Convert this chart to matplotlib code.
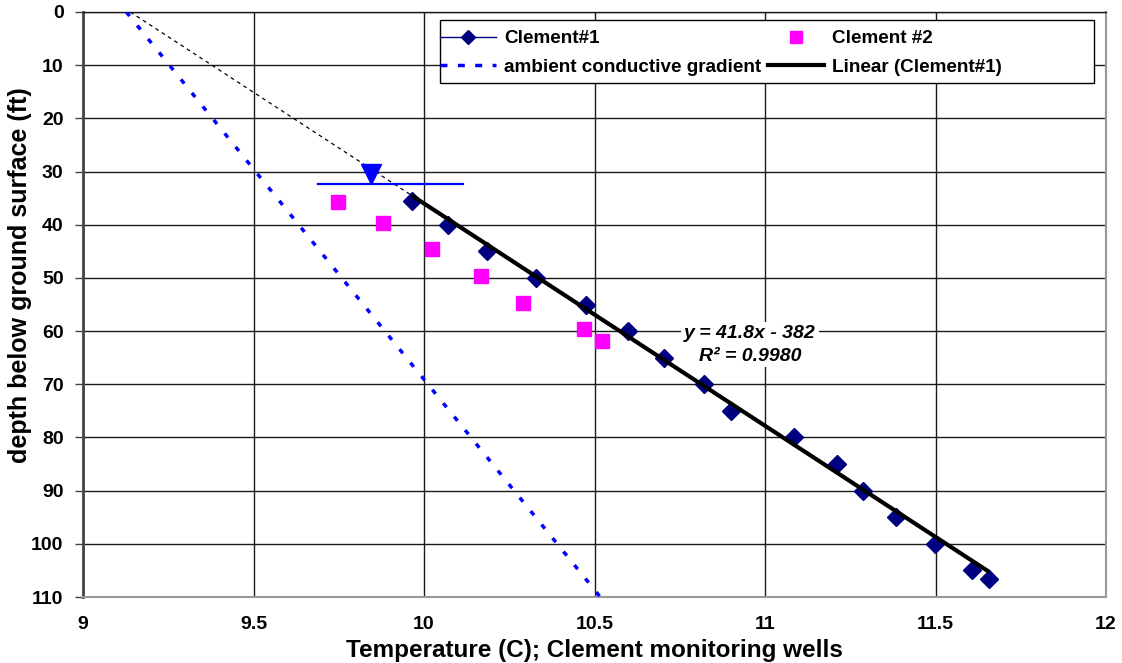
import numpy as np
import matplotlib
matplotlib.use('Agg')
import matplotlib.pyplot as plt
from matplotlib.lines import Line2D
from matplotlib.patches import Rectangle

# ---- data ----
c1_temp = [9.964, 10.069, 10.184, 10.328, 10.474, 10.597, 10.704, 10.821,
           10.900, 11.086, 11.210, 11.288, 11.383, 11.499, 11.608, 11.658]
c1_depth = [35.6, 40, 45, 50, 55, 60, 65, 70, 75, 80, 85, 90, 95, 100, 105, 106.6]
c2_temp = [9.747, 9.881, 10.023, 10.167, 10.291, 10.470, 10.523]
c2_depth = [35.7, 39.6, 44.6, 49.6, 54.7, 59.7, 61.8]
amb_temp = [9.127, 10.517]
amb_depth = [0, 110]
wt_temp = [9.688, 10.115]
wt_depth = 32.3
wt_marker_temp = 9.845
wt_marker_depth = 30.5
fit_slope = 41.8
fit_intercept = -382.0
x_ticks = [9, 9.5, 10, 10.5, 11, 11.5, 12]
x_ticklabels = ['9', '9.5', '10', '10.5', '11', '11.5', '12']
y_ticks = list(range(0, 111, 10))

plt.rcParams['font.family'] = ['Liberation Sans', 'DejaVu Sans']
plt.rcParams['font.weight'] = 'bold'

fig = plt.figure(figsize=(11.22, 6.63), dpi=100)
ax = fig.add_axes([83/1122, 1-597/663, (1106-83)/1122, 585/663])

ax.set_xlim(9, 12)
ax.set_ylim(110, 0)
ax.set_xticks(x_ticks)
ax.set_xticklabels(x_ticklabels)
ax.set_yticks(y_ticks)
ax.grid(True, color='#1a1a1a', linewidth=1.0, zorder=0)
ax.set_axisbelow(True)

# ambient conductive gradient
ax.plot(amb_temp, amb_depth, color='#0000FF', linewidth=2.5,
        linestyle=(0, (1.5, 3.5)), zorder=3)

# trend line + extension
t_min, t_max = min(c1_temp), max(c1_temp)
t0 = -fit_intercept / fit_slope
ax.plot([t0, t_min], [0, fit_slope * t_min + fit_intercept], color='black',
        linewidth=0.9, linestyle=(0, (3, 3)), zorder=4)

ax.plot(c1_temp, c1_depth, linestyle='none', marker='D', markersize=9,
        color='#000080', markeredgecolor='#000080', zorder=4)
ax.plot(c2_temp, c2_depth, linestyle='none', marker='s', markersize=10.5,
        color='#FF00FF', markeredgecolor='#FF00FF', zorder=4)

tt = np.array([t_min, t_max])
ax.plot(tt, fit_slope * tt + fit_intercept, color='black', linewidth=3,
        solid_capstyle='butt', zorder=5)

# water table symbol
ax.plot(wt_temp, [wt_depth, wt_depth], color='#0000FF', linewidth=1.6, zorder=5)
ax.plot([wt_marker_temp], [wt_marker_depth], marker='v', markersize=15,
        color='#0000FF', linestyle='none', zorder=6)

# equation
ax.text(10.956, 62.6, 'y = 41.8x - 382\nR² = 0.9980', ha='center', va='center',
        fontsize=14, fontstyle='italic', fontweight='bold', linespacing=1.42,
        bbox=dict(facecolor='white', edgecolor='none', pad=2), zorder=7)

# axes styling
for s in ['right', 'bottom']:
    ax.spines[s].set_color('#999999')
    ax.spines[s].set_linewidth(1.5)
ax.spines['left'].set_color('#444444')
ax.spines['left'].set_linewidth(2)
ax.spines['top'].set_color('#1a1a1a')
ax.spines['top'].set_linewidth(1)
ax.tick_params(axis='y', length=6, width=1, color='#444444', labelsize=14, pad=8)
ax.tick_params(axis='x', length=0, labelsize=14, pad=14)
for lab in ax.get_xticklabels() + ax.get_yticklabels():
    lab.set_fontweight('bold')

ax.set_xlabel('Temperature (C); Clement monitoring wells', fontsize=17.5,
              fontweight='bold', labelpad=4)
fig.text(20 / 1122, 1 - 275 / 663, 'depth below ground surface (ft)',
         rotation=90, ha='center', va='center', fontsize=18, fontweight='bold')

# legend
x0 = (440 - 83) / 1023
x1 = (1094 - 83) / 1023
y1 = 1 - (20 - 12) / 585
y0 = 1 - (83 - 12) / 585
ax.add_patch(Rectangle((x0, y0), x1 - x0, y1 - y0, transform=ax.transAxes,
                       facecolor='white', edgecolor='black', linewidth=1,
                       zorder=8))
handles = [
    Line2D([], [], color='#000080', linewidth=1, marker='D', markersize=7),
    Line2D([], [], color='#0000FF', linewidth=2.5, linestyle=(0, (2, 3))),
    Line2D([], [], color='#FF00FF', linestyle='none', marker='s', markersize=8),
    Line2D([], [], color='black', linewidth=3),
]
labels = ['Clement#1', 'ambient conductive gradient', 'Clement #2',
          'Linear (Clement#1)']
leg = ax.legend(handles, labels, ncol=2, loc='upper left',
                bbox_to_anchor=(x0 - 0.004, y1 - 0.011), frameon=False,
                fontsize=13.6, handlelength=3.0, handletextpad=0.4,
                columnspacing=0.35, labelspacing=0.6, borderpad=0.2,
                borderaxespad=0)
leg.set_zorder(9)
for t in leg.get_texts():
    t.set_fontweight('bold')

fig.savefig('out.png', dpi=100)
